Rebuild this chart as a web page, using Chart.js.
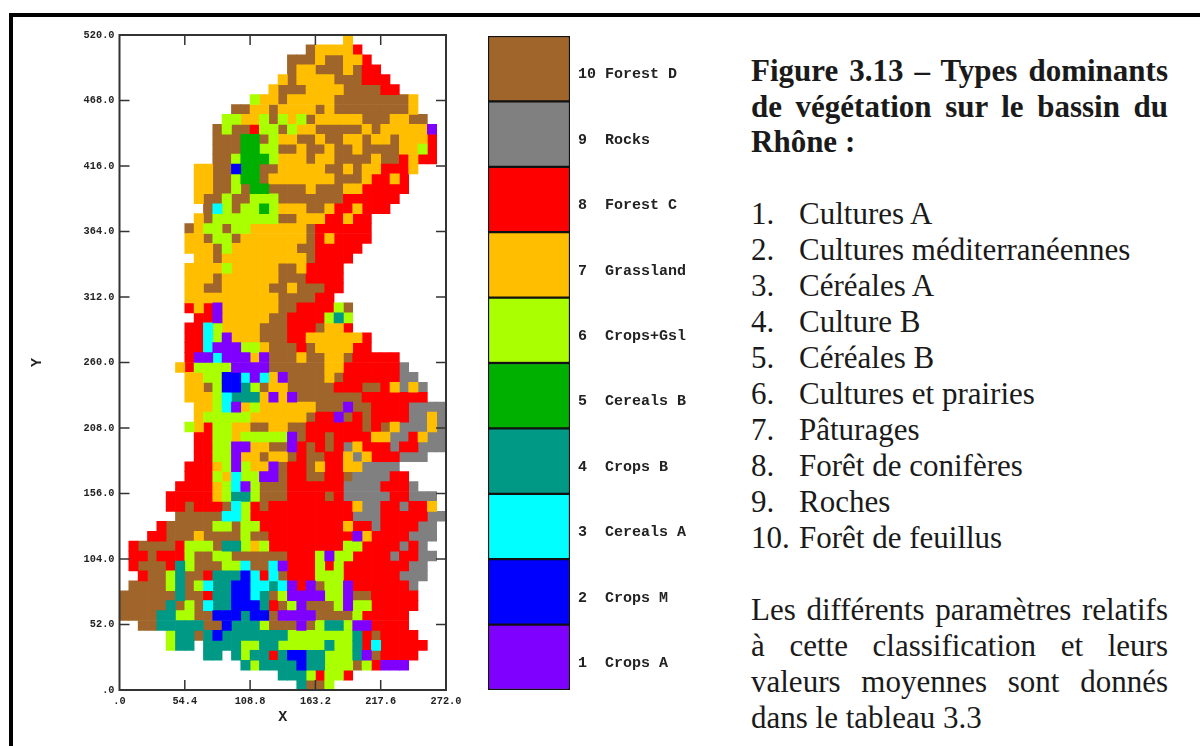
<!DOCTYPE html>
<html lang="fr">
<head>
<meta charset="utf-8">
<title>Figure 3.13</title>
<script src="https://cdn.jsdelivr.net/npm/chart.js@4"></script>
<style>
  html, body { margin: 0; padding: 0; background: #fff; }
  body { position: relative; width: 1200px; height: 746px; overflow: hidden; }
  canvas { position: absolute; top: 0; filter: blur(0.4px); }
  #mapChart { left: 0; }
  #legendChart { left: 480px; }
  .frame { position: absolute; background: #000; }
  .line { position: absolute; left: 751px; width: 417px; font-family: "Liberation Serif", serif; font-size: 31px; line-height: 36px; color: #1a1a1a; white-space: nowrap; }
  .just { white-space: normal; text-align: justify; text-align-last: justify; }
  .bold { font-weight: bold; }
  .num { display: inline-block; width: 48px; }
</style>
</head>
<body>
<div class="frame" style="left:9px;top:13px;width:1191px;height:4px"></div>
<div class="frame" style="left:9px;top:13px;width:4px;height:733px"></div>
<canvas id="mapChart" width="480" height="746"></canvas>
<canvas id="legendChart" width="260" height="746"></canvas>
<div id="caption"></div>
<script>
const columns = 35;
const xMax = 272;
const yMax = 520;
const xTicks = [0, 54.4, 108.8, 163.2, 217.6, 272];
const xTickLabels = ['.0', '54.4', '108.8', '163.2', '217.6', '272.0'];
const yTicks = [0, 52, 104, 156, 208, 260, 312, 364, 416, 468, 520];
const yTickLabels = ['.0', '52.0', '104.0', '156.0', '208.0', '260.0', '312.0', '364.0', '416.0', '468.0', '520.0'];

// class number 1..10, bottom to top of the colour bar
const classColors = ['#7f00ff', '#0000ff', '#00ffff', '#009985', '#00b000', '#aaff00', '#ffbf00', '#ff0000', '#808080', '#a0652a'];
const classLabels = ['1  Crops A', '2  Crops M', '3  Cereals A', '4  Crops B', '5  Cereals B', '6  Crops+Gsl', '7  Grassland', '8  Forest C', '9  Rocks', '10 Forest D'];
const classShares = [1, 1, 1, 1, 1, 1, 1, 1, 1, 1];

// one line per grid row from the top, runs of "firstCol-lastCol:class"
const gridRows = [
  '24-24:7',
  '20-20:10 21-24:7 25-25:8',
  '18-20:10 21-21:7 22-23:10 24-25:7 26-26:8',
  '18-18:10 19-20:7 21-23:10 24-24:7 25-25:10 26-27:8',
  '17-17:7 18-18:10 19-22:7 23-25:10 26-28:8',
  '16-16:7 17-19:10 20-23:7 24-27:10 28-29:8',
  '14-14:6 15-16:7 17-17:10 18-22:7 23-30:10 31-31:7',
  '12-13:10 14-15:7 16-16:10 17-20:7 21-21:10 22-22:7 23-30:10 31-31:7',
  '11-12:6 13-14:7 15-15:6 16-16:10 17-17:6 18-18:7 19-19:6 20-20:10 21-25:7 26-28:10 29-30:7 31-32:10',
  '10-10:10 11-11:6 12-13:10 14-14:8 15-16:6 17-17:10 18-18:6 19-20:7 21-25:10 26-26:7 27-27:10 28-32:7 33-33:1',
  '10-12:10 13-14:5 15-15:10 16-16:6 17-18:7 19-20:10 21-21:7 22-23:10 24-25:7 26-26:10 27-28:7 29-29:10 30-32:7 33-33:8',
  '10-12:10 13-14:5 15-16:6 17-18:10 19-19:7 20-21:10 22-22:7 23-24:10 25-25:7 26-29:10 30-31:7 32-32:6 33-33:8',
  '10-11:10 12-12:6 13-15:5 16-16:6 17-19:7 20-20:10 21-22:7 23-26:10 27-27:7 28-29:10 30-30:8 31-31:7 32-33:8',
  '8-9:7 10-11:10 12-12:2 13-14:5 15-16:10 17-21:7 22-23:10 24-24:7 25-25:10 26-27:7 28-30:8 31-31:7',
  '8-9:7 10-11:10 12-12:6 13-14:5 15-15:10 16-22:7 23-25:10 26-26:7 27-28:8 29-29:7 30-30:8',
  '8-9:7 10-11:10 12-12:6 13-13:10 14-15:5 16-19:10 20-20:7 21-23:10 24-25:7 26-30:8',
  '8-8:7 9-10:10 11-11:6 12-13:10 14-16:6 17-23:10 24-29:8',
  '9-9:10 10-10:3 11-11:6 12-12:10 13-14:6 15-15:5 16-16:6 17-19:7 20-21:10 22-22:7 23-24:8 25-25:7 26-28:8',
  '8-8:7 9-9:10 10-16:6 17-18:10 19-21:7 22-23:8 24-24:7 25-26:8',
  '7-7:10 8-8:7 9-10:6 11-11:10 12-13:6 14-19:7 20-20:10 21-26:8',
  '7-8:7 9-9:10 10-11:6 12-12:10 13-19:7 20-20:10 21-21:8 22-22:7 23-26:8',
  '7-9:7 10-10:10 11-11:6 12-18:7 19-20:10 21-25:8',
  '8-9:7 10-10:10 11-19:7 20-20:10 21-24:8',
  '7-10:7 11-11:6 12-16:7 17-18:10 19-19:7 20-23:8',
  '7-9:7 10-10:10 11-16:7 17-19:10 20-23:8',
  '7-8:7 9-10:10 11-15:7 16-17:10 18-18:7 19-21:10 22-23:8',
  '7-16:7 17-20:10 21-22:8',
  '7-7:8 8-8:7 9-9:8 10-10:1 11-16:7 17-18:10 19-22:8 23-23:6 24-24:10',
  '8-9:8 10-10:1 11-15:7 16-17:10 18-21:8 22-22:6 23-23:4 24-24:6',
  '7-8:8 9-9:3 10-10:6 11-14:7 15-17:10 18-20:8 21-21:10 22-23:7 24-24:8',
  '7-8:8 9-9:3 10-10:6 11-11:1 12-14:7 15-17:10 18-19:8 20-25:7 26-26:8',
  '7-8:8 9-9:3 10-12:1 13-14:6 15-15:7 16-18:10 19-19:8 20-20:10 21-24:7 25-26:8',
  '7-7:8 8-9:1 10-10:3 11-13:1 14-14:7 15-15:1 16-18:10 19-19:7 20-21:10 22-23:7 24-24:10 25-29:8',
  '6-6:7 7-7:8 8-11:6 12-15:1 16-21:10 22-23:7 24-29:8 30-30:9',
  '7-8:7 9-10:6 11-12:2 13-13:3 14-14:1 15-15:3 16-16:7 17-17:1 18-21:10 22-22:7 23-23:10 24-29:8 30-31:9',
  '7-8:7 9-9:10 10-10:6 11-12:2 13-13:4 14-14:6 15-15:10 16-17:7 18-22:10 23-25:8 26-27:10 28-28:8 29-29:7 30-30:9 31-31:7 32-32:9',
  '7-9:7 10-10:6 11-11:3 12-14:4 15-15:7 16-16:1 17-17:7 18-18:1 19-25:10 26-32:8',
  '8-9:7 10-10:6 11-11:3 12-12:1 13-13:7 14-14:6 15-20:7 21-23:10 24-24:1 25-26:10 27-30:8 31-34:9',
  '8-8:7 9-13:6 14-19:7 20-20:10 21-22:8 23-23:1 24-24:10 25-25:8 26-26:10 27-30:8 31-32:9 33-33:7 34-34:9',
  '7-7:6 8-8:7 9-9:8 10-11:6 12-13:7 14-15:10 16-17:7 18-19:10 20-25:8 26-26:10 27-27:8 28-28:10 29-29:7 30-32:9 33-33:7 34-34:9',
  '8-9:8 10-11:6 12-12:7 13-17:6 18-18:1 19-19:10 20-21:8 22-22:10 23-26:8 27-28:7 29-30:9 31-31:8 32-32:7 33-34:9',
  '8-9:8 10-11:6 12-13:1 14-15:7 16-17:10 18-18:1 19-19:8 20-20:10 21-21:8 22-22:10 23-23:8 24-24:9 25-25:7 26-28:8 29-29:9 30-31:8 32-34:9',
  '8-9:8 10-11:6 12-12:1 13-14:7 15-15:10 16-17:7 18-18:10 19-19:8 20-21:10 22-23:8 24-24:7 25-25:9 26-26:7 27-29:8 30-32:9',
  '7-9:8 10-10:7 11-11:6 12-12:1 13-13:6 14-15:7 16-16:1 17-17:10 18-19:8 20-20:10 21-21:7 22-23:8 24-25:7 26-29:9',
  '7-9:8 10-10:6 11-11:7 12-12:3 13-14:6 15-16:1 17-17:10 18-19:8 20-21:10 22-23:8 24-24:10 25-28:9 29-30:8',
  '6-9:8 10-10:7 11-11:6 12-12:3 13-13:1 14-14:6 15-17:10 18-23:8 24-27:9 28-30:8 31-31:9',
  '5-9:8 10-10:7 11-11:6 12-13:4 14-14:6 15-17:10 18-21:8 22-22:10 23-23:8 24-28:9 29-30:8 31-33:9',
  '5-6:8 7-7:10 8-10:8 11-11:10 12-12:3 13-13:6 14-14:8 15-15:10 16-24:8 25-25:7 26-27:9 28-29:8 30-30:9 31-32:8 33-33:7',
  '6-10:10 11-12:3 13-13:6 14-24:8 25-27:9 28-32:8 33-34:9',
  '4-4:8 5-9:10 10-11:6 12-12:10 13-14:6 15-23:8 24-24:7 25-26:8 27-27:9 28-31:8 32-33:9',
  '3-4:8 5-7:10 8-8:7 9-12:10 13-13:6 14-15:10 16-24:8 25-25:1 26-26:7 27-30:8 31-33:9',
  '1-1:8 2-5:10 6-6:8 7-9:6 10-10:10 11-12:4 13-13:6 14-14:7 15-15:6 16-23:8 24-25:6 26-29:8 30-30:9 31-31:8 32-32:9',
  '1-2:8 3-3:10 4-6:8 7-7:6 8-9:10 10-11:6 12-17:10 18-20:8 21-21:6 22-22:1 23-24:6 25-28:8 29-29:9 30-31:8 32-33:9',
  '1-1:8 2-4:10 5-5:8 6-6:4 7-7:6 8-10:10 11-12:6 13-13:3 14-15:10 16-16:3 17-17:1 18-20:8 21-21:6 22-22:8 23-23:6 24-30:8 31-32:9',
  '2-2:8 3-4:10 5-5:6 6-6:4 7-8:10 9-9:8 10-12:4 13-13:2 14-14:3 15-15:8 16-16:3 17-17:10 18-20:8 21-23:6 24-29:8 30-32:9',
  '1-4:10 5-5:6 6-6:4 7-7:10 8-8:6 9-9:3 10-11:4 12-13:2 14-15:3 16-16:4 17-17:3 18-18:1 19-19:8 20-20:1 21-21:10 22-23:6 24-24:1 25-30:8 31-31:9',
  '0-5:10 6-6:4 7-8:10 9-9:8 10-11:4 12-13:2 14-14:3 15-15:4 16-16:10 17-17:6 18-21:1 22-23:6 24-24:1 25-26:10 27-31:8',
  '0-4:10 5-5:4 6-6:10 7-7:6 8-8:10 9-9:3 10-11:4 12-14:2 15-15:4 16-16:8 17-17:10 18-18:6 19-19:1 20-22:10 23-23:6 24-24:1 25-26:6 27-31:8',
  '0-3:10 4-5:4 6-7:6 8-9:10 10-12:2 13-13:4 14-15:2 16-16:10 17-20:1 21-24:10 25-25:6 26-30:8',
  '2-3:10 4-8:4 9-10:10 11-11:2 12-14:4 15-15:6 16-18:10 19-19:1 20-20:10 21-21:6 22-23:4 24-24:6 25-26:1 27-30:8',
  '5-5:6 6-7:4 8-8:10 9-9:4 10-10:2 11-17:4 18-24:6 25-25:4 26-26:8 27-27:10 28-31:8',
  '5-5:6 6-7:4 9-12:4 13-14:6 15-16:4 17-21:6 22-22:4 23-24:6 25-25:4 26-26:8 27-27:3 28-32:8',
  '9-10:4 12-12:4 13-13:6 14-15:4 16-16:8 17-17:4 18-19:2 20-21:4 22-24:6 25-25:4 26-26:1 27-27:10 28-31:8',
  '13-13:4 14-14:6 15-18:4 19-19:2 20-21:4 22-24:6 25-25:10 26-26:6 27-27:8 28-30:1',
  '17-19:4 20-20:6 21-21:8 22-23:6 24-24:8',
  '19-19:4 20-21:10 22-22:6'
];

const cellW = xMax / columns;
const cellH = yMax / gridRows.length;

function cellsForClass(cls) {
  const out = [];
  gridRows.forEach((row, r) => {
    row.split(' ').forEach(run => {
      const [span, c] = run.split(':');
      if (Number(c) !== cls) return;
      const [a, b] = span.split('-').map(Number);
      for (let col = a; col <= b; col++) {
        out.push({ x: (col + 0.5) * cellW, y: [yMax - (r + 1) * cellH, yMax - r * cellH] });
      }
    });
  });
  return out;
}

const inwardTicks = {
  id: 'inwardTicks',
  afterDatasetsDraw(chart) {
    const { ctx, chartArea: a, scales } = chart;
    ctx.save();
    ctx.strokeStyle = '#333';
    ctx.lineWidth = 1.5;
    ctx.beginPath();
    xTicks.slice(1, -1).forEach(v => {
      const x = scales.x.getPixelForValue(v);
      ctx.moveTo(x, a.top); ctx.lineTo(x, a.top + 10);
      ctx.moveTo(x, a.bottom); ctx.lineTo(x, a.bottom - 10);
    });
    yTicks.slice(1, -1).forEach(v => {
      const y = scales.y.getPixelForValue(v);
      ctx.moveTo(a.left, y); ctx.lineTo(a.left + 10, y);
      ctx.moveTo(a.right, y); ctx.lineTo(a.right - 10, y);
    });
    ctx.stroke();
    ctx.lineWidth = 2;
    ctx.strokeRect(a.left, a.top, a.right - a.left, a.bottom - a.top);
    ctx.restore();
  }
};

const tickFont = { family: 'Liberation Mono', size: 10.3, weight: 'bold' };
const titleFont = { family: 'Liberation Mono', size: 15, weight: 'bold' };

new Chart(document.getElementById('mapChart'), {
  type: 'bar',
  data: {
    datasets: classColors.map((color, i) => ({
      label: classLabels[i],
      data: cellsForClass(i + 1),
      backgroundColor: color,
      borderWidth: 0,
      grouped: false,
      barPercentage: 1,
      categoryPercentage: 1
    }))
  },
  options: {
    responsive: false,
    animation: false,
    layout: { padding: { top: 35, right: 34 } },
    plugins: { legend: { display: false }, tooltip: { enabled: false } },
    scales: {
      x: {
        type: 'linear',
        min: 0,
        max: xMax,
        offset: false,
        grid: { display: false, offset: false, drawTicks: false },
        border: { display: false },
        afterBuildTicks: s => { s.ticks = xTicks.map(v => ({ value: v })); },
        afterFit: s => { s.height = 56; },
        ticks: {
          autoSkip: false,
          maxRotation: 0,
          padding: 5,
          color: '#222',
          font: tickFont,
          callback: (v, i) => xTickLabels[i]
        },
        title: {
          display: true,
          text: 'X',
          color: '#222',
          font: titleFont,
          padding: { top: 0, bottom: 20 }
        }
      },
      y: {
        min: 0,
        max: yMax,
        grid: { display: false, drawTicks: false },
        border: { display: false },
        afterBuildTicks: s => { s.ticks = yTicks.map(v => ({ value: v })); },
        afterFit: s => { s.width = 119.5; },
        ticks: {
          autoSkip: false,
          padding: 5,
          color: '#222',
          font: tickFont,
          callback: (v, i) => yTickLabels[i]
        },
        title: {
          display: true,
          text: 'Y',
          color: '#222',
          font: titleFont,
          padding: { top: 28, bottom: 0 }
        }
      }
    }
  },
  plugins: [inwardTicks]
});

new Chart(document.getElementById('legendChart'), {
  type: 'bar',
  data: {
    labels: [''],
    datasets: classColors.map((color, i) => ({
      label: classLabels[i],
      data: [classShares[i]],
      backgroundColor: color,
      borderColor: '#111',
      borderWidth: 1.5,
      borderSkipped: false,
      barPercentage: 1,
      categoryPercentage: 1
    }))
  },
  options: {
    responsive: false,
    animation: false,
    layout: { padding: { left: 8, top: 36, bottom: 56 } },
    plugins: { legend: { display: false }, tooltip: { enabled: false } },
    scales: {
      x: { display: false, stacked: true },
      y: {
        stacked: true,
        position: 'right',
        min: 0,
        max: classLabels.length,
        grid: { display: false, drawTicks: false },
        border: { display: false },
        afterBuildTicks: s => { s.ticks = classLabels.map((l, i) => ({ value: i + 0.41 })); },
        afterFit: s => { s.width = 170; },
        ticks: {
          autoSkip: false,
          padding: 8,
          color: '#222',
          font: { family: 'Liberation Mono', size: 15, weight: 'bold' },
          callback: (v, i) => classLabels[i]
        }
      }
    }
  }
});

// caption text beside the figure
const titleLines = ['Figure 3.13 – Types dominants', 'de végétation sur le bassin du', 'Rhône :'];
const listLines = ['Cultures A', 'Cultures méditerranéennes', 'Céréales A', 'Culture B', 'Céréales B', 'Cultures et prairies', 'Pâturages', 'Forêt de conifères', 'Roches', 'Forêt de feuillus'];
const noteLines = ['Les différents paramètres relatifs', 'à cette classification et leurs', 'valeurs moyennes sont donnés', 'dans le tableau 3.3'];

const caption = document.getElementById('caption');
function addLine(html, top, cls) {
  const d = document.createElement('div');
  d.className = 'line ' + cls;
  d.style.top = top + 'px';
  d.innerHTML = html;
  caption.appendChild(d);
}
titleLines.forEach((t, i) => addLine(t, 53 + i * 35.5, i < 2 ? 'bold just' : 'bold'));
listLines.forEach((t, i) => addLine('<span class="num">' + (i + 1) + '.</span>' + t, 196 + i * 36, ''));
noteLines.forEach((t, i) => addLine(t, 592 + i * 36, i < 3 ? 'just' : ''));
</script>
</body>
</html>
